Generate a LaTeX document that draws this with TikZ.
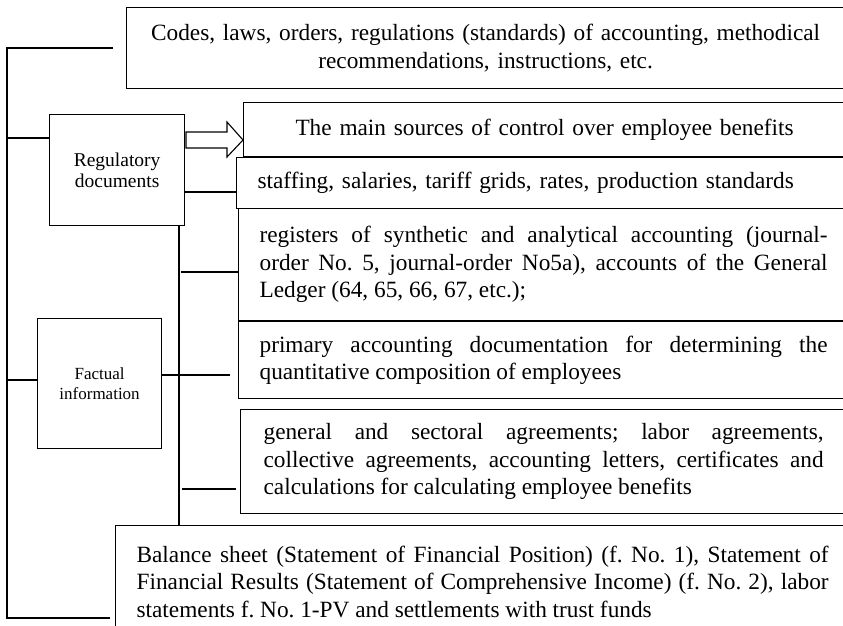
\documentclass[tikz,border=0pt]{standalone}
\usepackage{fontspec}
\setmainfont{Liberation Serif}
\tolerance=10000 \hbadness=10000 \hyphenpenalty=10000
\frenchspacing
\begin{document}
\begin{tikzpicture}[x=1pt,y=-1pt,line width=1.2pt,
  box/.style={draw,rectangle,anchor=north west,inner ysep=0pt,font=\fontsize{23.3}{27.5}\selectfont},
  sbox/.style={draw,rectangle,anchor=north west,inner sep=2pt,align=center}]
\useasboundingbox (0,0) rectangle (843,626);
\clip (0,0) rectangle (843,626);
% boxes
\node[box,text width=700,inner xsep=9,minimum height=81,align=center] (codes) at (126,7)
  {Codes, laws, orders, regulations (standards) of accounting, methodical\\recommendations, instructions, etc.};
\node[box,text width=560,inner xsep=21,minimum height=54,align=center] (main) at (243,102)
  {The main sources of control over employee benefits};
\node[box,text width=570,inner xsep=21,minimum height=51,align=left] (staff) at (236,157)
  {staffing, salaries, tariff grids, rates, production standards};
\node[box,text width=568,inner xsep=21,minimum height=112,align=justify] (regs) at (238,208)
  {registers of synthetic and analytical accounting (journal-\linebreak order No. 5, journal-order No5a), accounts of the General\linebreak Ledger (64, 65, 66, 67, etc.);};
\node[box,text width=568,inner xsep=21,minimum height=77,align=justify] (prim) at (238,321)
  {primary accounting documentation for determining the\linebreak quantitative composition of employees};
\node[box,text width=560,inner xsep=23,minimum height=104,align=justify] (agr) at (240,409)
  {general and sectoral agreements; labor agreements,\linebreak collective agreements, accounting letters, certificates and\linebreak calculations for calculating employee benefits};
\node[box,text width=692,inner xsep=21,minimum height=112,align=justify] (bal) at (115,525)
  {Balance sheet (Statement of Financial Position) (f. No. 1), Statement of\linebreak Financial Results (Statement of Comprehensive Income) (f. No. 2), labor\linebreak statements f. No. 1-PV and settlements with trust funds};
\node[sbox,minimum width=135,minimum height=111,font=\fontsize{19.5}{21}\selectfont] (reg) at (49,114)
  {Regulatory\\documents};
\node[sbox,minimum width=124,minimum height=130,font=\fontsize{17}{20}\selectfont] (fact) at (37,318)
  {Factual\\information};
% helper coordinates
\coordinate (sB) at (7,618);
\coordinate (v) at (179,0);
\coordinate (y1) at (0,138);
\coordinate (y2) at (0,192);
\coordinate (y3) at (0,272);
\coordinate (y4) at (0,375);
\coordinate (y5) at (0,489);
\coordinate (y6) at (0,380);
\coordinate (yt) at (0,140);
% hollow arrow
\draw[line width=1.1pt] (186,132) -- (227,132) -- (227,122) -- (main.west |- yt) -- (227,157) -- (227,148) -- (186,148) -- cycle;
% spine and connectors
\draw ([xshift=-13pt]codes.west) -| (sB) -- ([xshift=-5pt]bal.west |- sB);
\draw (sB |- y1) -- (reg.west |- y1);
\draw (sB |- y6) -- (fact.west |- y6);
\draw (reg.east |- y2) -- (staff.west |- y2);
\draw (reg.south -| v) -- (bal.north -| v);
\draw ([xshift=2pt]v |- y3) -- (regs.west |- y3);
\draw (fact.east |- y4) -- ([xshift=-8pt]prim.west |- y4);
\draw ([xshift=3pt]v |- y5) -- ([xshift=-4pt]agr.west |- y5);
\end{tikzpicture}
\end{document}
